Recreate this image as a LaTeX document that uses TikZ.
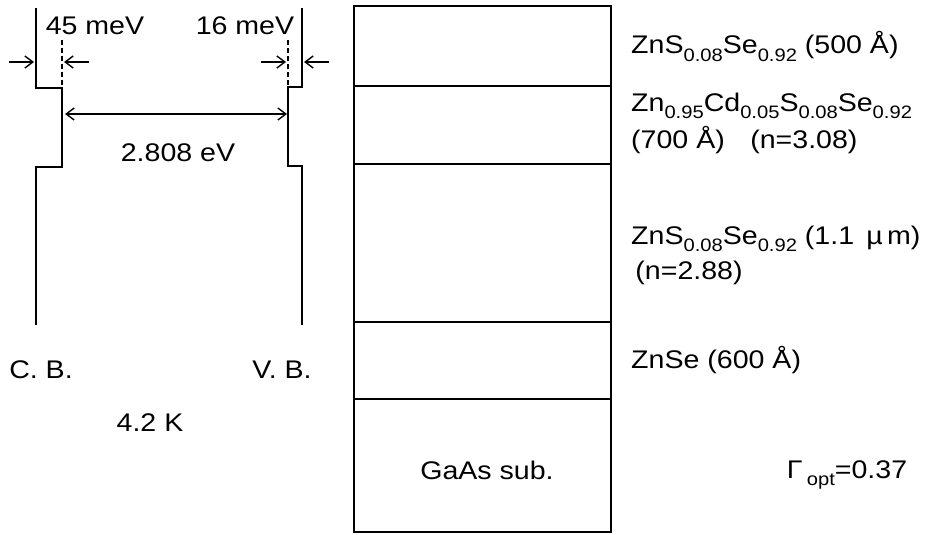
\documentclass[tikz,border=0pt]{standalone}
\usepackage{fontspec}
\setmainfont{Liberation Sans}[FakeStretch=1.12]
\usetikzlibrary{positioning,arrows.meta}

\newcommand{\lsub}[1]{\raisebox{-0.28em}{\fontsize{18}{18}\selectfont #1}}

\begin{document}
\begin{tikzpicture}[
    x=1pt, y=-1pt,
    band line/.style={line width=2pt, line join=miter},
    layer line/.style={line width=1.8pt},
    offset line/.style={line width=1.3pt, dash pattern=on 5pt off 3pt},
    dim arrow/.style={line width=1.4pt, -{Straight Barb[length=8pt, width=12pt]}},
    dim both/.style={line width=1.4pt, {Straight Barb[length=8pt, width=12pt]}-{Straight Barb[length=8pt, width=12pt]}},
    lbl/.style={font=\fontsize{25.5}{28}\selectfont, inner sep=0pt, anchor=base west},
    clbl/.style={font=\fontsize{25.5}{28}\selectfont, inner sep=0pt, anchor=base}
]
  \useasboundingbox (0,0) rectangle (945,535);

  % band edges
  \coordinate (cbtop) at (36,8);
  \coordinate (cbbot) at (36,325);
  \coordinate (vbtop) at (302,8);
  \coordinate (vbbot) at (302,325);
  \draw[band line] (cbtop) -- (36,88) -- (62,88) -- (62,167) -- (36,167) -- (cbbot);
  \draw[band line] (vbtop) -- (302,87) -- (288,87) -- (288,166) -- (302,166) -- (vbbot);
  \draw[offset line] (62,40) -- (62,88);
  \draw[offset line] (288,40) -- (288,87);

  % offsets and gap
  \coordinate (cbin) at (9,62);
  \coordinate (cbout) at (34,62);
  \coordinate (cbdin) at (89,62);
  \coordinate (cbdout) at (64,62);
  \coordinate (vbdin) at (261,62);
  \coordinate (vbdout) at (286,62);
  \coordinate (vbin) at (329,62);
  \coordinate (vbout) at (304,62);
  \coordinate (gapl) at (65,114);
  \coordinate (gapr) at (287,114);
  \draw[dim arrow] (cbin) -- (cbout);
  \draw[dim arrow] (cbdin) -- (cbdout);
  \draw[dim arrow] (vbdin) -- (vbdout);
  \draw[dim arrow] (vbin) -- (vbout);
  \draw[dim both] (gapl) -- (gapr);

  \node[clbl] (cboff) at (95,35) {45 meV};
  \node[clbl] (vboff) at (245,35) {16 meV};
  \node[clbl] (gap) at (178,161) {2.808 eV};
  \node[clbl] (cb) at (41,378) {C. B.};
  \node[clbl] (vb) at (282,378) {V. B.};
  \node[clbl] (temp) at (150,431) {4.2 K};

  % layer stack
  \draw[layer line] (354,6) rectangle (611,532);
  \foreach \y in {86,164,322,399}
    \draw[layer line] (354,\y) -- (611,\y);
  \node[clbl] (sub) at (487,479) {GaAs sub.};

  \node[lbl] (cap) at (631,54) {ZnS\lsub{0.08}Se\lsub{0.92} (500 Å)};
  \node[lbl] (qw) at (631,111) {Zn\lsub{0.95}Cd\lsub{0.05}S\lsub{0.08}Se\lsub{0.92}};
  \node[lbl] (qwn) at (631,148) {(700 Å)\quad(n=3.08)};
  \node[lbl] (clad) at (631,244) {ZnS\lsub{0.08}Se\lsub{0.92} (1.1 \,µ\,m)};
  \node[lbl] (cladn) at (631,279) {\,(n=2.88)};
  \node[lbl] (buf) at (631,368) {ZnSe (600 Å)};
  \node[clbl] (conf) at (847,478) {Γ\,\lsub{opt}=0.37};
\end{tikzpicture}
\end{document}
